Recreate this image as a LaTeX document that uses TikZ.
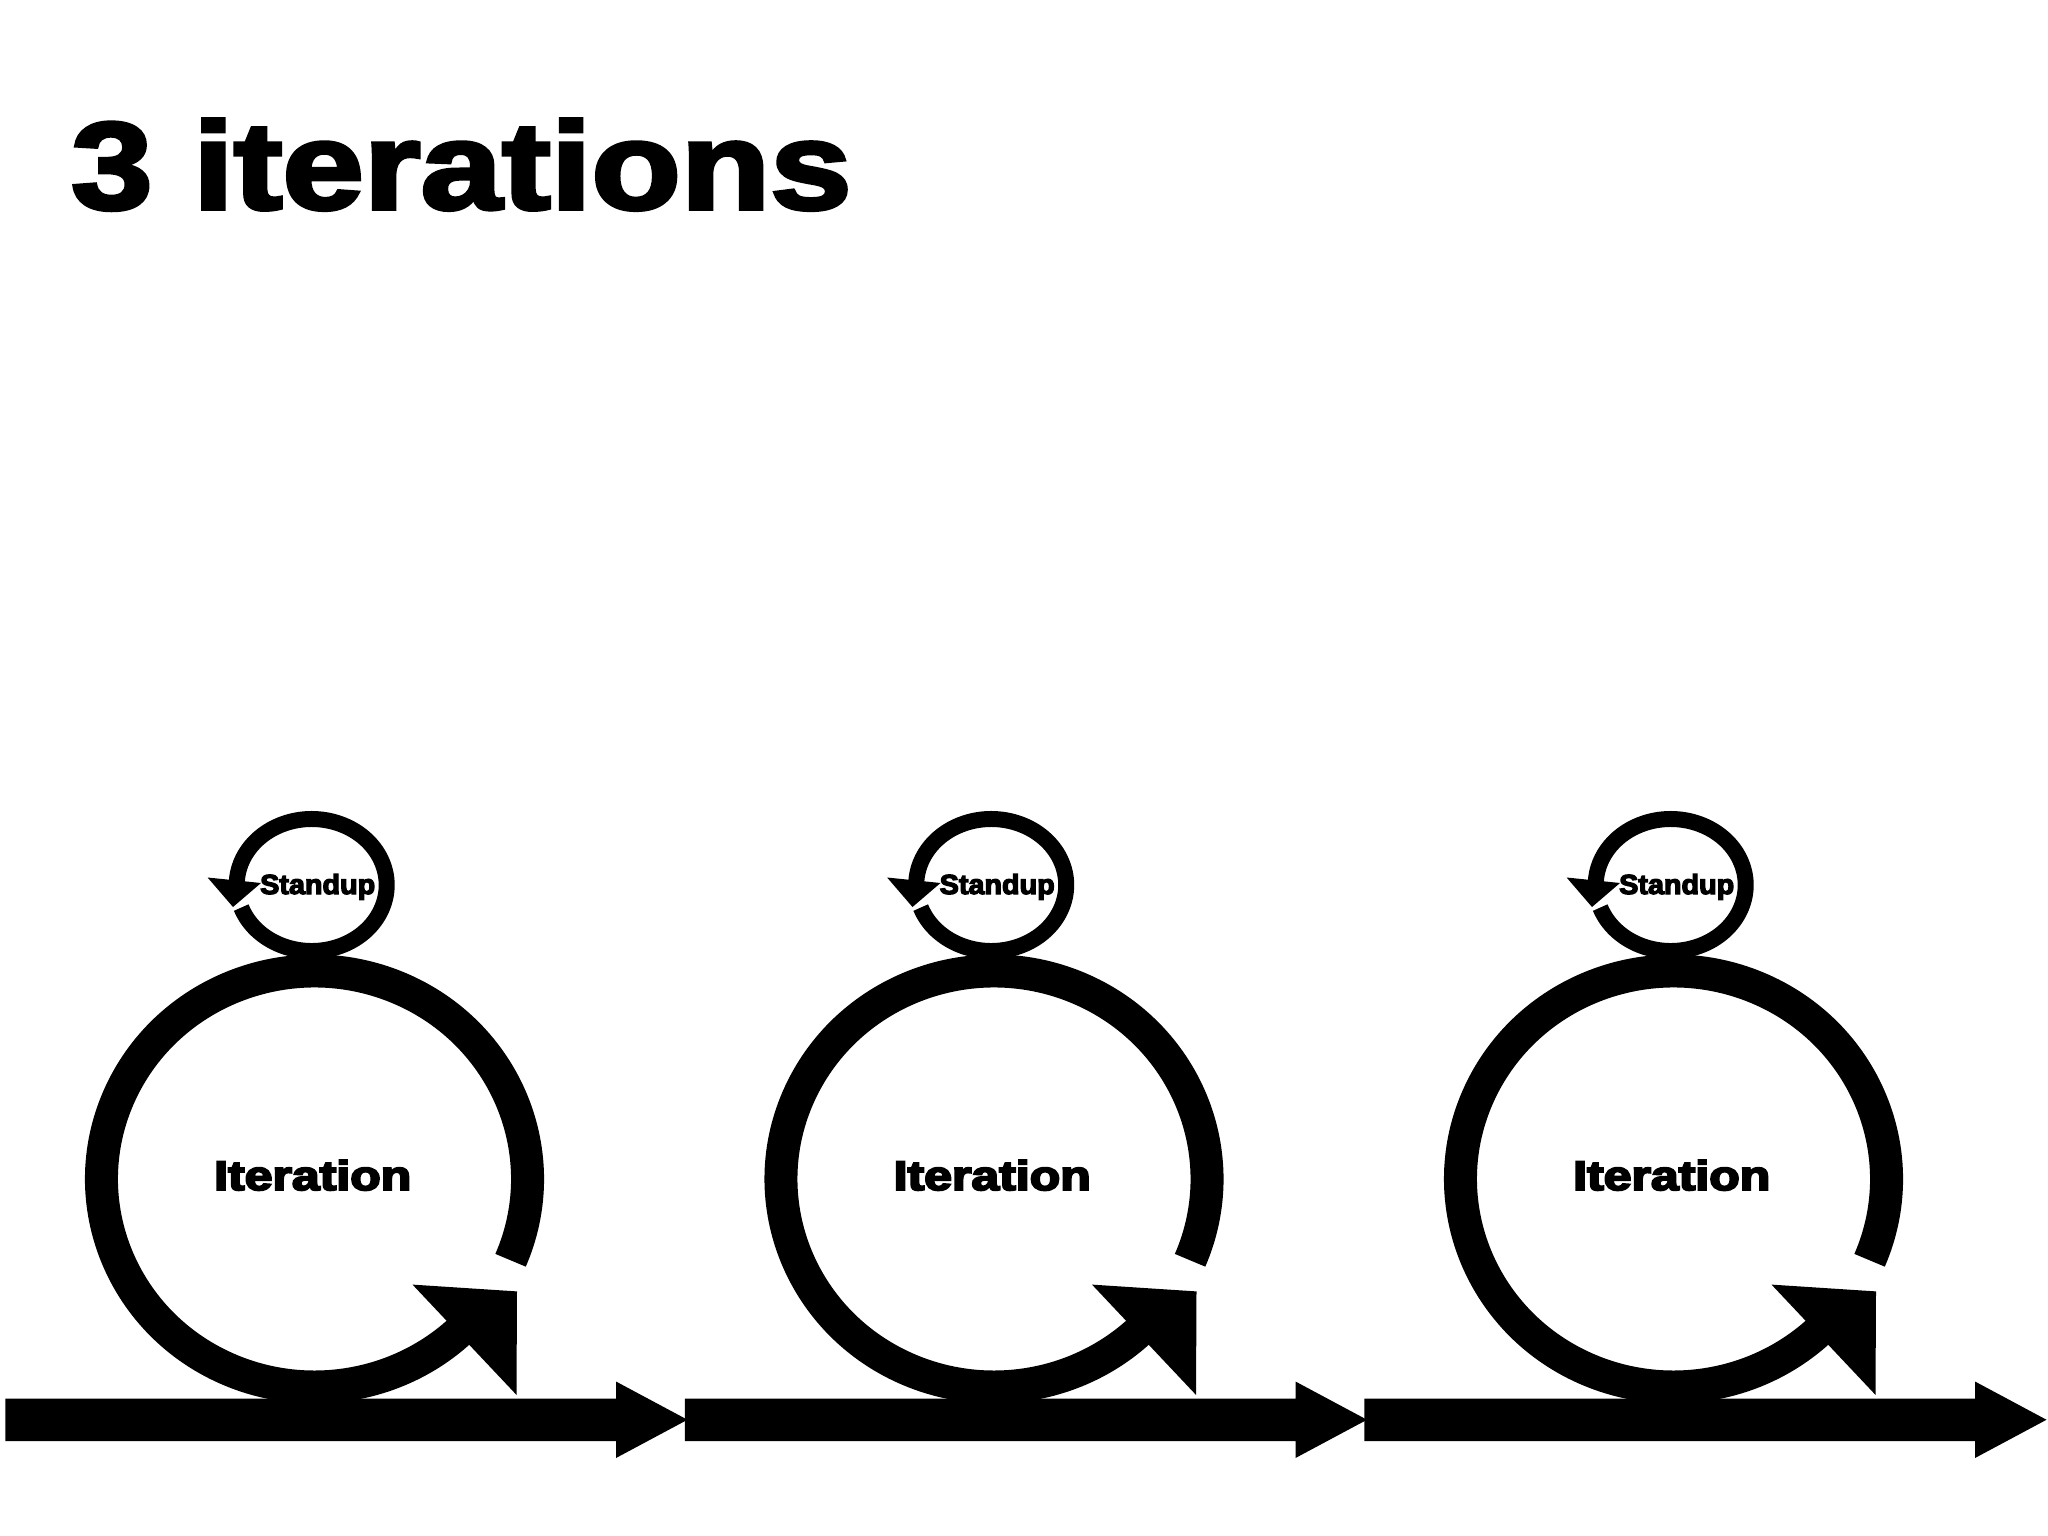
\documentclass[tikz,border=0pt]{standalone}
\usepackage{fontspec}
\usepackage{graphicx}
\newfontfamily\heavy{Liberation Sans}[FakeBold=3]
\newfontfamily\heavysm{Liberation Sans}[FakeBold=4.5]
\tikzset{
  bigring/.style={line width=33pt, line cap=butt},
  smallring/.style={line width=16pt, line cap=butt},
  txt/.style={inner sep=0pt, anchor=base west},
  head/.style={fill=black, draw=none}
}
\begin{document}
\begin{tikzpicture}[x=1pt, y=1pt]
\useasboundingbox (0,0) rectangle (2048,-1536);
\fill[white] (0,0) rectangle (2048,-1536);
\node[txt] (title) at (71,-209) {\resizebox{780pt}{90pt}{\heavy\bfseries 3 iterations}};
\foreach \k in {0,1,2}{
  \begin{scope}[xshift=\k*679.5pt]
    % timeline bar with arrow
    \fill (5.4,-1398.5) -- (616,-1398.5) -- (616,-1381.5) -- (687.5,-1419.75)
          -- (616,-1458) -- (616,-1441) -- (5.4,-1441) -- cycle;
    % big iteration ring
    \draw[bigring] (314.5,-1179) ++(-23:213pt and 208pt)
         arc[start angle=-23, end angle=313.5, x radius=213pt, y radius=208pt];
    \fill[head] (412.5,-1284.6) -- (517,-1291.4) -- (516.5,-1394.9) -- cycle;
    % small standup ring
    \draw[smallring] (311.7,-885) ++(-160:75pt and 66pt)
         arc[start angle=-160, end angle=177.5, x radius=75pt, y radius=66pt];
    \fill[head] (207.6,-877.5) -- (261,-883) -- (233,-907) -- cycle;
    % labels
    \node[txt] (iter\k) at (214,-1190) {\resizebox{197pt}{30pt}{\heavysm\bfseries Iteration}};
    \node[txt] (stand\k) at (260,-894) {\resizebox{115pt}{20pt}{\heavysm\bfseries Standup}};
  \end{scope}
}
\end{tikzpicture}
\end{document}
